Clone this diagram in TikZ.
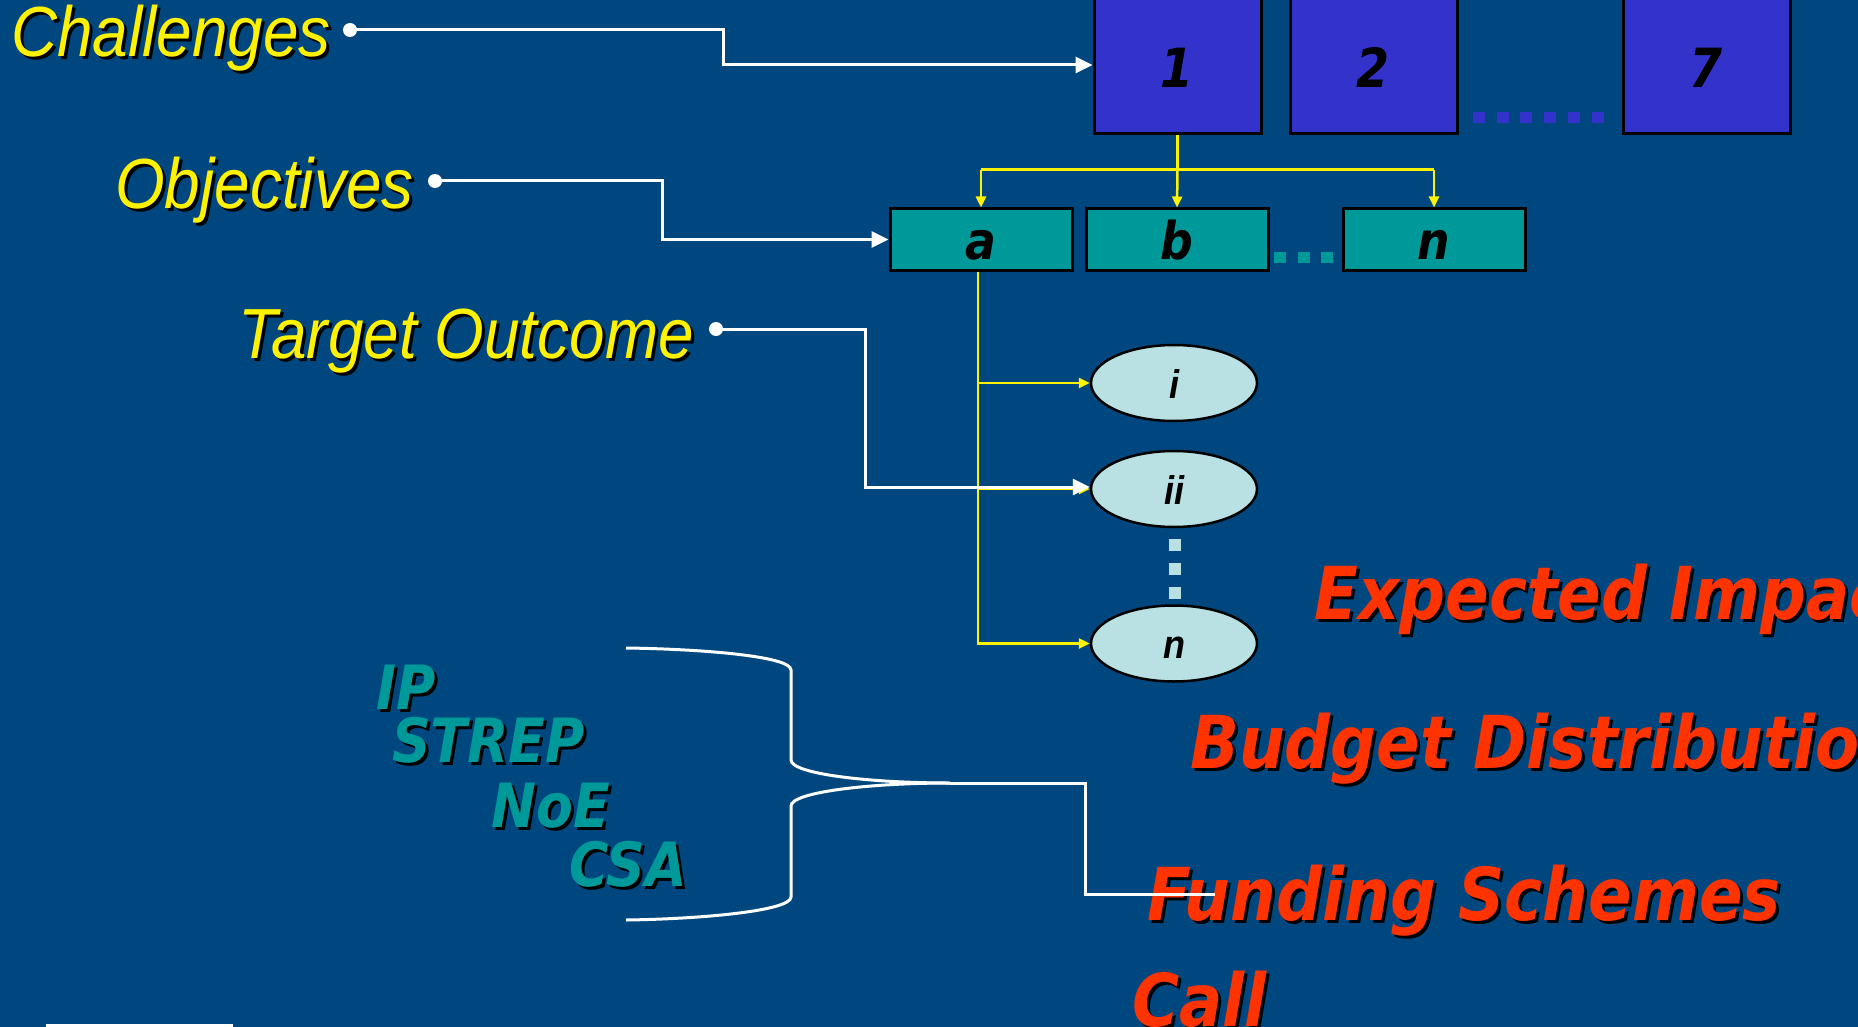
\documentclass[tikz,border=0pt]{standalone}
\usepackage{fontspec}
\usetikzlibrary{shapes.geometric,arrows.meta}
\newfontfamily\labelfont[FakeStretch=0.9]{Liberation Sans}
\newfontfamily\boxfont[FakeStretch=0.88]{DejaVu Sans}
\definecolor{bgblue}{RGB}{0,71,127}
\definecolor{boxblue}{RGB}{51,51,204}
\definecolor{boxteal}{RGB}{0,153,153}
\definecolor{ellfill}{RGB}{185,224,227}
\definecolor{callred}{RGB}{255,51,0}
\newcommand{\shad}[2]{\rlap{\kern3pt\raisebox{-3pt}{\color{black}#2}}{\color{#1}#2}}

\begin{document}
\begin{tikzpicture}[x=1pt,y=-1pt]
                        \tikzstyle{yellowlabel}=[anchor=base west,inner sep=0,font=\labelfont\itshape\fontsize{71}{80}\selectfont]
                        \tikzstyle{redlabel}=[anchor=base west,inner sep=0,font=\boxfont\bfseries\itshape\fontsize{73}{80}\selectfont]
                        \tikzstyle{teallabel}=[anchor=base west,inner sep=0,font=\boxfont\bfseries\itshape\fontsize{61}{66}\selectfont]
                        \tikzstyle{challenge}=[draw=black,line width=3pt,fill=boxblue,minimum width=167pt,minimum height=138pt,inner sep=0,text height=46pt,text depth=0pt,font=\boxfont\bfseries\itshape\fontsize{54}{60}\selectfont]
                        \tikzstyle{objective}=[draw=black,line width=3pt,fill=boxteal,minimum width=182pt,minimum height=61pt,inner sep=0,text height=40pt,text depth=0pt,font=\boxfont\bfseries\itshape\fontsize{52}{60}\selectfont]
                        \tikzstyle{outcome}=[ellipse,draw=black,line width=2.5pt,fill=ellfill,minimum width=166pt,minimum height=76pt,inner sep=0,text height=30pt,text depth=0pt,font=\labelfont\bfseries\itshape\fontsize{40}{44}\selectfont]
                        \tikzstyle{dot}=[circle,fill=white,inner sep=0,minimum size=14pt]
                        \tikzstyle{wline}=[white,line width=3pt]
                        \tikzstyle{warrow}=[white,line width=3pt,-{Triangle[length=17pt,width=16pt]}]
                        \tikzstyle{yline}=[yellow,line width=3pt]
                        \tikzstyle{yarrow}=[yellow,line width=2.5pt,-{Triangle[length=11pt,width=10pt]}]
                        \fill[bgblue] (0,0) rectangle (1858,1027);
                        \useasboundingbox (0,0) rectangle (1858,1027);
                        \node[challenge] (c1) at (1177.5,65) {1};
                        \node[challenge] (c2) at (1373.5,65) {2};
                        \node[challenge] (c7) at (1706.5,65) {7};
                        \foreach \x in {1473,1497,1520,1544,1568,1592}
                            \fill[boxblue] (\x,112) rectangle ++(12,11);
                        \node[objective] (oa) at (981,239.5) {a};
                        \node[objective] (ob) at (1177,239.5) {b};
                        \node[objective] (on) at (1434,239.5) {n};
                        \foreach \x in {1274,1297.5,1321}
                            \fill[boxteal] (\x,252) rectangle ++(12,11);
                        \node[outcome] (ti) at (1174,383) {i};
                        \node[outcome] (tii) at (1174,489) {ii};
                        \node[outcome] (tn) at (1174,643.5) {n};
                        \foreach \y in {539,563,587}
                            \fill[ellfill] (1169,\y) rectangle ++(12,12);
                        \coordinate (split) at (1177.5,170);
                        \coordinate (down) at ([xshift=-3pt]oa.south);
                        \draw[yline] (c1.south) -- (split);
                        \draw[yline] (split) -- (981,170);
                        \draw[yline] (split) -- (1434,170);
                        \draw[yarrow] (981,170) -- (oa.north);
                        \draw[yarrow] (split) -- (ob.north);
                        \draw[yarrow] (1434,170) -- (on.north);
                        \draw[yarrow] (down) |- (ti.west);
                        \draw[yarrow] (down) |- (tii.west);
                        \draw[yarrow] (down) |- (tn.west);
                        \node[yellowlabel] (chal) at (11,57) {\shad{yellow}{Challenges}};
                        \node[yellowlabel] (obj) at (115,209) {\shad{yellow}{Objectives}};
                        \node[yellowlabel] (tout) at (238,358) {\shad{yellow}{Target Outcome}};
                        \node[dot] (chdot) at (350,30) {};
                        \node[dot] (objdot) at (435,181) {};
                        \node[dot] (todot) at (716,329) {};
                        \draw[warrow] (chdot.center) -| (723,65) -- (c1.west);
                        \draw[warrow] (objdot.center) -| (662,239.5) -- (oa.west);
                        \draw[warrow] (todot.center) -| (865,487) -- ([yshift=2pt]tii.west);
                        \node[teallabel] (ip) at (376,709) {\shad{boxteal}{IP}};
                        \node[teallabel] (strep) at (392,762) {\shad{boxteal}{STREP}};
                        \node[teallabel] (noe) at (491,827) {\shad{boxteal}{NoE}};
                        \node[teallabel] (csa) at (569,886) {\shad{boxteal}{CSA}};
                        \node[redlabel] (impact) at (1314,619) {\shad{callred}{Expected Impact}};
                        \node[redlabel] (budget) at (1190,768) {\shad{callred}{Budget Distribution}};
                        \node[redlabel] (schemes) at (1147,920) {\shad{callred}{Funding Schemes}};
                        \node[redlabel] (call) at (1132,1026) {\shad{callred}{Call}};
                        \coordinate (tip) at (950,783);
                        \coordinate (fsend) at (1215,894);
                        \draw[wline] (626,648) .. controls (700,649) and (791,656) .. (791,670) -- (791,760) .. controls (791,774) and (870,783) .. (tip);
                        \draw[wline] (tip) .. controls (870,783) and (791,792) .. (791,806) -- (791,897) .. controls (791,911) and (700,919) .. (626,920);
                        \draw[wline] (tip) -| (1085,894) -- (fsend);
                        \fill[white] (46,1024) rectangle (233,1030);
                    \end{tikzpicture}
\end{document}
